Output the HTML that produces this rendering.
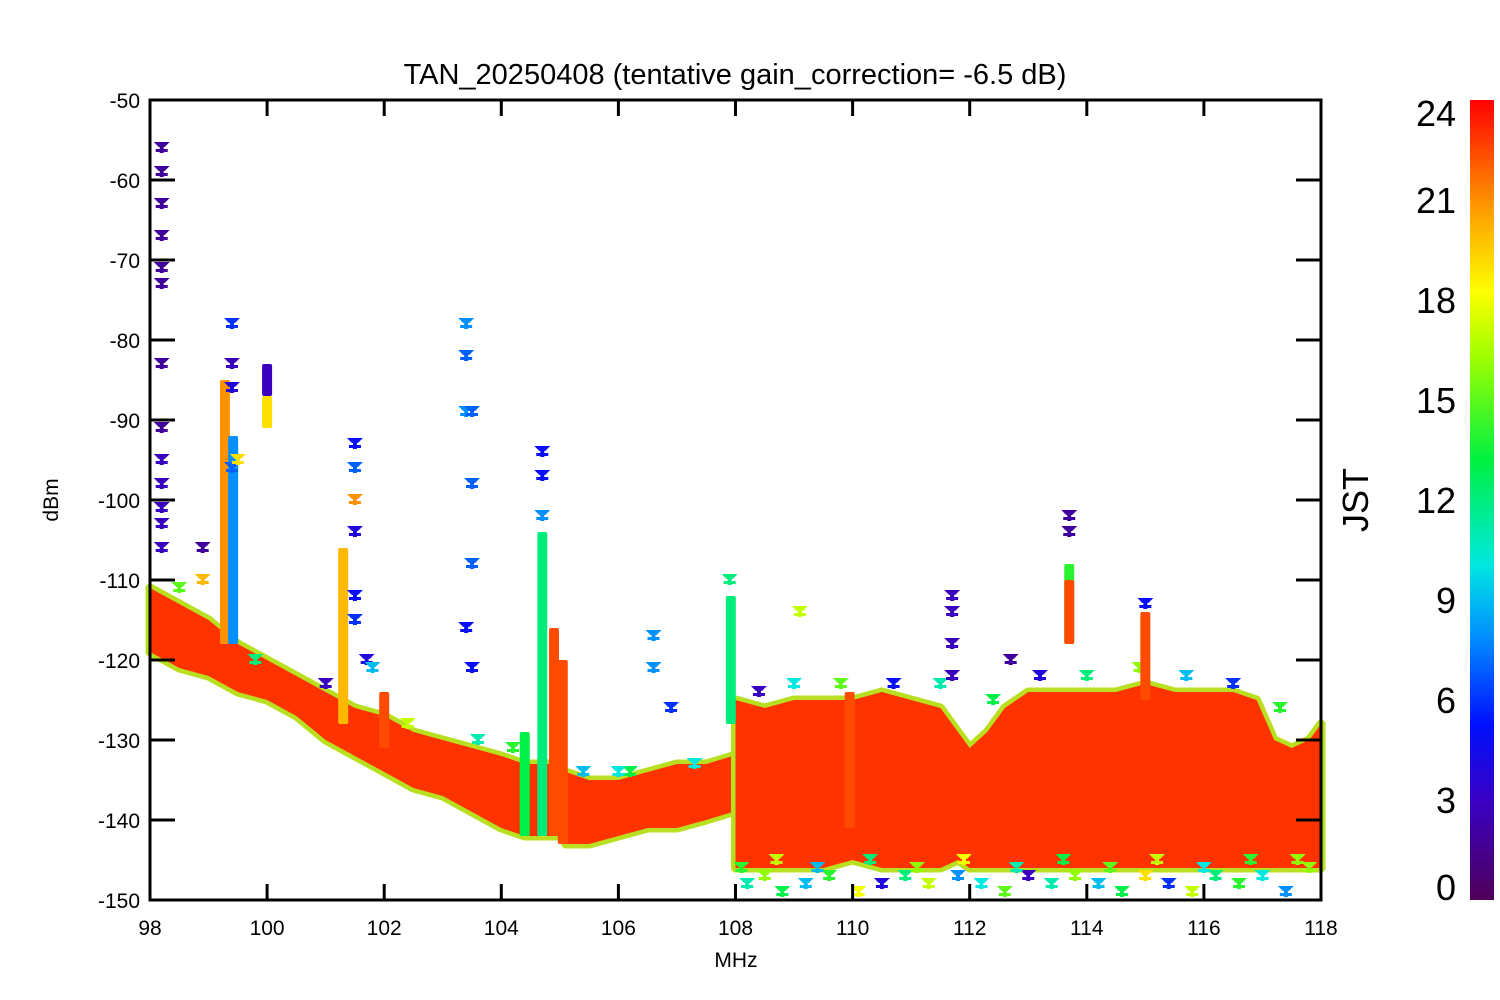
<!DOCTYPE html>
<html><head><meta charset="utf-8"><style>
body{margin:0;background:#fff;}
svg{display:block;font-family:"Liberation Sans",sans-serif;}
</style></head><body>
<svg id="chart" width="1500" height="1000">
<defs>
<linearGradient id="cbar" x1="0" y1="1" x2="0" y2="0">
<stop offset="0" stop-color="#50005a"/><stop offset="0.12" stop-color="#3a00c0"/>
<stop offset="0.22" stop-color="#0010ff"/><stop offset="0.33" stop-color="#0090ff"/>
<stop offset="0.42" stop-color="#00e8e0"/><stop offset="0.55" stop-color="#00f040"/>
<stop offset="0.68" stop-color="#a0ff00"/><stop offset="0.76" stop-color="#ffff00"/>
<stop offset="0.86" stop-color="#ffa000"/><stop offset="1" stop-color="#ff0000"/>
</linearGradient>
</defs>
<text x="735" y="84" font-size="29" text-anchor="middle">TAN_20250408 (tentative gain_correction= -6.5 dB)</text>
<g id="plot"></g>
<g id="axes"></g>
<rect x="1470" y="100" width="24" height="800" fill="url(#cbar)"/>
<g id="cbticks"></g>
<text transform="translate(1368,500) rotate(-90)" font-size="36" text-anchor="middle">JST</text>
<text transform="translate(58,500) rotate(-90)" font-size="21" text-anchor="middle">dBm</text>
<text x="736" y="967" font-size="21" text-anchor="middle">MHz</text>
</svg>
<script>
const xTicks=[98,100,102,104,106,108,110,112,114,116,118];
const yTicks=[-50,-60,-70,-80,-90,-100,-110,-120,-130,-140,-150];
const cbTicks=[0,3,6,9,12,15,18,21,24];
// noise floor envelope: frequency, top dBm, bottom dBm
const envFreq=[98,98.5,99,99.5,100,100.5,101,101.5,102,102.5,103,103.5,104,104.4,104.95];
const envTop=[-111,-113,-115,-118,-120,-122,-124,-126,-127,-129,-130,-131,-132,-133,-133];
const envBot=[-119,-121,-122,-124,-125,-127,-130,-132,-134,-136,-137,-139,-141,-142,-142];
const env2Freq=[105.1,105.5,106,106.5,107,107.5,107.95];
const env2Top=[-134,-135,-135,-134,-133,-133,-132];
const env2Bot=[-143,-143,-142,-141,-141,-140,-139];
const env3Freq=[108,108.5,109,109.5,110,110.5,111,111.5,111.8,112,112.3,112.6,113,113.5,114,114.5,115,115.5,116,116.5,116.9,117.2,117.5,117.8,118];
const env3Top=[-125,-126,-125,-125,-125,-124,-125,-126,-129,-131,-129,-126,-124,-124,-124,-124,-123,-124,-124,-124,-125,-130,-131,-130,-128];
const env3Bot=[-146,-146,-146,-146,-145,-146,-146,-146,-145,-146,-146,-146,-146,-146,-146,-146,-146,-146,-146,-146,-146,-146,-146,-146,-146];
// vertical spikes: frequency, top dBm, bottom dBm, hour
const spikeFreq=[99.28,99.42,100,100,101.3,102,104.4,104.7,104.9,105.05,107.92,109.95,113.7,113.7,115];
const spikeTop=[-85,-92,-83,-87,-106,-124,-129,-104,-116,-120,-112,-124,-108,-110,-114];
const spikeBot=[-118,-118,-87,-91,-128,-131,-142,-142,-142,-143,-128,-141,-118,-118,-125];
const spikeHour=[21,8,3,19,20,23,13,12,23,23,12,23,14,23,23];
// scattered outliers: frequency, dBm, hour
const ptFreq=[98.2,98.2,98.2,98.2,98.2,98.2,98.2,98.2,98.2,98.2,98.2,98.2,98.2,99.4,99.4,99.4,99.4,99.5,98.9,98.9,101.5,101.5,101.5,101.5,101.5,101.5,101.7,101.8,103.4,103.4,103.4,103.5,103.5,103.5,103.4,103.5,106.6,106.6,106.9,107.9,109.1,111.7,111.7,111.7,111.7,113.7,113.7,115,104.7,104.7,104.7,105.4,106,112.7];
const ptVal=[-56,-59,-63,-67,-71,-73,-83,-91,-95,-98,-101,-103,-106,-78,-83,-86,-96,-95,-106,-110,-93,-96,-100,-104,-112,-115,-120,-121,-78,-82,-89,-89,-98,-108,-116,-121,-117,-121,-126,-110,-114,-112,-114,-118,-122,-102,-104,-113,-94,-97,-102,-134,-134,-120];
const ptHour=[2,2,2,2,2,2,2,2,3,3,3,3,3,6,3,4,7,19,2,20,5,7,21,4,5,6,4,9,8,7,8,7,7,7,5,5,8,8,6,12,17,3,3,3,3,2,2,5,5,5,8,9,10,2];
// fringe markers around noise band
const frFreq=[108.2,108.5,108.8,109.2,109.6,110.1,110.5,110.9,111.3,111.8,112.2,112.6,113,113.4,113.8,114.2,114.6,115,115.4,115.8,116.2,116.6,117,117.4,117.8,108.4,109,109.8,110.7,111.5,112.4,113.2,114,114.9,115.7,116.5,117.3,98.5,99.8,101,102.4,103.6,104.2,106.2,107.3,108.1,108.7,109.4,110.3,111.1,111.9,112.8,113.6,114.4,115.2,116,116.8,117.6];
const frVal=[-148,-147,-149,-148,-147,-149,-148,-147,-148,-147,-148,-149,-147,-148,-147,-148,-149,-147,-148,-149,-147,-148,-147,-149,-146,-124,-123,-123,-123,-123,-125,-122,-122,-121,-122,-123,-126,-111,-120,-123,-128,-130,-131,-134,-133,-146,-145,-146,-145,-146,-145,-146,-145,-146,-145,-146,-145,-145];
const frHour=[11,16,13,9,14,18,4,12,17,8,10,15,3,11,16,9,13,19,6,17,12,14,10,8,16,3,10,15,5,11,13,4,12,16,9,6,14,15,12,3,17,11,14,13,10,14,17,9,12,16,18,11,13,15,17,10,14,16];

const NS='http://www.w3.org/2000/svg';
const X0=150,X1=1321,Y0=100,Y1=900;
const xs=f=>X0+(f-98)/20*(X1-X0);
const ys=v=>Y0+(-50-v)/100*(Y1-Y0);
function hourColor(h){
  const stops=[[0,[80,0,90]],[3,[58,0,192]],[5.3,[0,16,255]],[8,[0,144,255]],[10,[0,232,224]],[13.2,[0,240,64]],[16.3,[160,255,0]],[18.2,[255,255,0]],[20.6,[255,160,0]],[24,[255,40,0]]];
  for(let i=1;i<stops.length;i++){if(h<=stops[i][0]){const a=stops[i-1],b=stops[i],t=(h-a[0])/(b[0]-a[0]);return 'rgb('+a[1].map((c,k)=>Math.round(c+(b[1][k]-c)*t)).join(',')+')';}}
  return 'rgb(255,40,0)';
}
const plot=document.getElementById('plot');
function mk(tag,attrs,parent){const e=document.createElementNS(NS,tag);for(const k in attrs)e.setAttribute(k,attrs[k]);(parent||plot).appendChild(e);return e;}
function band(fr,top,bot,name){
  const pts=fr.map((f,i)=>xs(f)+','+ys(top[i])).concat(fr.map((f,i)=>xs(f)+','+ys(bot[i])).reverse()).join(' ');
  const fringe=mk('polygon',{points:pts,fill:'#ff9a00',stroke:'#b8e020','stroke-width':9,'stroke-linejoin':'round'});
  
  
  const p=mk('polygon',{points:pts,fill:'#ff3300'});
  
  
}
band(envFreq,envTop,envBot,'noise-band-low');
band(env2Freq,env2Top,env2Bot,'noise-band-mid');
band(env3Freq,env3Top,env3Bot,'noise-band-high');
function star(f,v,h){
  const x=xs(f),y=ys(v);
  const g=mk('path',{d:`M${x-8},${y-6}h16l-5,5h-1v6h-4v-6h-1z M${x-6},${y+1}h12v3h-12z`,fill:hourColor(h)});
  
  
}
frFreq.forEach((f,i)=>star(f,frVal[i],frHour[i]));
spikeFreq.forEach((f,i)=>{
  const r=mk('rect',{x:xs(f)-5,y:ys(spikeTop[i]),width:10,height:ys(spikeBot[i])-ys(spikeTop[i]),fill:hourColor(spikeHour[i]),rx:2});
  
  
});
ptFreq.forEach((f,i)=>star(f,ptVal[i],ptHour[i]));

const ax=document.getElementById('axes');
const frame=mk('rect',{x:X0,y:Y0,width:X1-X0,height:Y1-Y0,fill:'none',stroke:'#000','stroke-width':3},ax);


xTicks.forEach(t=>{
  const x=xs(t);
  mk('line',{x1:x,y1:Y1,x2:x,y2:Y1-16,stroke:'#000','stroke-width':3},ax);
  mk('line',{x1:x,y1:Y0,x2:x,y2:Y0+16,stroke:'#000','stroke-width':3},ax);
  const l=mk('text',{x:x,y:935,'font-size':21,'text-anchor':'middle'},ax);l.textContent=t;
  
  
});
yTicks.forEach(t=>{
  const y=ys(t);
  mk('line',{x1:X0,y1:y,x2:X0+25,y2:y,stroke:'#000','stroke-width':3},ax);
  mk('line',{x1:X1,y1:y,x2:X1-25,y2:y,stroke:'#000','stroke-width':3},ax);
  const l=mk('text',{x:140,y:y+8,'font-size':21,'text-anchor':'end'},ax);l.textContent=t;
  
  
});
const cb=document.getElementById('cbticks');
cbTicks.forEach(t=>{
  const y=Math.min(887,Math.max(113,900-t/24*800));
  const l=mk('text',{x:1456,y:y+13,'font-size':36,'text-anchor':'end'},cb);l.textContent=t;
  
  
});
</script>
</body></html>
